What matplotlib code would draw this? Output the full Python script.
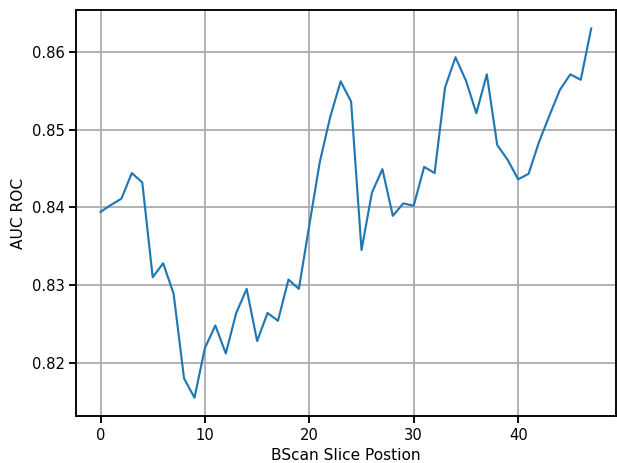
import matplotlib
matplotlib.use("Agg")
import matplotlib.pyplot as plt

# AUC ROC per BScan slice position
slice_pos = list(range(48))
auc_roc = [
    0.8394, 0.8403, 0.8411, 0.8444, 0.8432, 0.8310, 0.8328, 0.8289, 0.8180, 0.8155,
    0.8219, 0.8248, 0.8212, 0.8264, 0.8295, 0.8228, 0.8264, 0.8254, 0.8307, 0.8295,
    0.8377, 0.8458, 0.8516, 0.8562, 0.8536, 0.8345, 0.8419, 0.8449, 0.8389, 0.8405,
    0.8402, 0.8452, 0.8444, 0.8554, 0.8593, 0.8563, 0.8521, 0.8571, 0.8480, 0.8461,
    0.8436, 0.8443, 0.8484, 0.8518, 0.8551, 0.8571, 0.8564, 0.8630,
]

fig, ax = plt.subplots(figsize=(6.4, 4.8), dpi=96.5)
ax.plot(slice_pos, auc_roc, color="#1f77b4", linewidth=1.6)

ax.grid(True, color="#aaaaaa", linewidth=1.3)
ax.set_axisbelow(True)
for sp in ax.spines.values():
    sp.set_linewidth(1.4)
ax.tick_params(width=1.4, length=5, labelsize=11)

ax.set_xlabel("BScan Slice Postion", fontsize=11.5)
ax.set_ylabel("AUC ROC", fontsize=11.5)

fig.subplots_adjust(left=0.123, right=0.997, top=0.978, bottom=0.101)
fig.savefig("out.png")
